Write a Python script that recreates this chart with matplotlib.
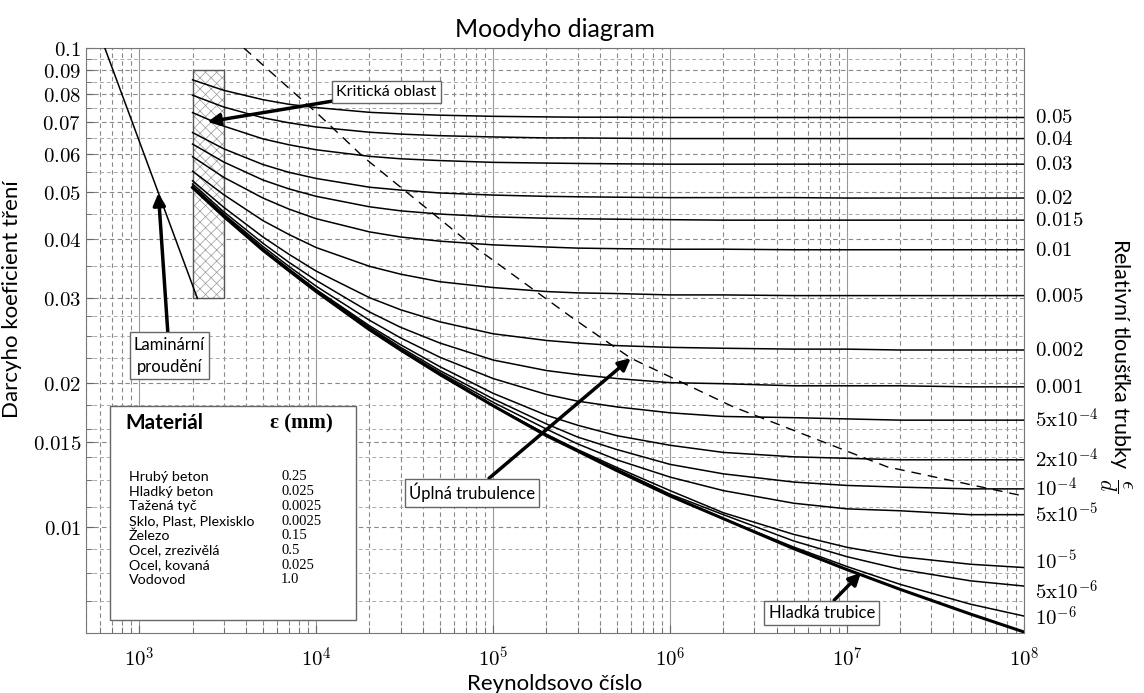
import numpy as np
import matplotlib
matplotlib.use("Agg")
import matplotlib.pyplot as plt
from matplotlib.patches import Rectangle
from matplotlib.ticker import FixedLocator, NullFormatter, FuncFormatter, LogLocator
import matplotlib.transforms as mtrans

plt.rcParams['mathtext.fontset'] = 'cm'
plt.rcParams['font.family'] = ['Lato', 'DejaVu Sans']
plt.rcParams['hatch.linewidth'] = 0.5

re_pts = [2e3, 3e3, 5e3, 7e3, 1e4, 2e4, 3e4, 5e4, 1e5, 2e5, 3e5, 5e5, 1e6, 2e6, 5e6, 1e7, 2e7, 5e7, 1e8]

# friction factor per relative roughness
f_0_05 = [0.0858, 0.0816, 0.0780, 0.0763, 0.0751, 0.0734, 0.0729, 0.0724, 0.0720, 0.0718, 0.0717, 0.0717, 0.0716, 0.0716, 0.0716, 0.0716, 0.0716, 0.0716, 0.0716]
f_0_04 = [0.0797, 0.0753, 0.0715, 0.0698, 0.0684, 0.0667, 0.0661, 0.0656, 0.0652, 0.0649, 0.0649, 0.0648, 0.0647, 0.0647, 0.0647, 0.0647, 0.0647, 0.0647, 0.0647]
f_0_03 = [0.0733, 0.0687, 0.0646, 0.0628, 0.0613, 0.0594, 0.0587, 0.0582, 0.0577, 0.0575, 0.0574, 0.0573, 0.0572, 0.0572, 0.0572, 0.0572, 0.0572, 0.0572, 0.0572]
f_0_02 = [0.0666, 0.0616, 0.0571, 0.0550, 0.0534, 0.0512, 0.0505, 0.0498, 0.0493, 0.0490, 0.0489, 0.0488, 0.0487, 0.0487, 0.0487, 0.0486, 0.0486, 0.0486, 0.0486]
f_0_015 = [0.0630, 0.0578, 0.0530, 0.0508, 0.0490, 0.0466, 0.0457, 0.0450, 0.0444, 0.0441, 0.0440, 0.0439, 0.0438, 0.0437, 0.0437, 0.0437, 0.0437, 0.0437, 0.0437]
f_0_01 = [0.0593, 0.0537, 0.0486, 0.0461, 0.0440, 0.0413, 0.0403, 0.0395, 0.0388, 0.0384, 0.0382, 0.0381, 0.0380, 0.0380, 0.0379, 0.0379, 0.0379, 0.0379, 0.0379]
f_0_005 = [0.0553, 0.0494, 0.0436, 0.0408, 0.0383, 0.0350, 0.0337, 0.0325, 0.0316, 0.0310, 0.0308, 0.0307, 0.0305, 0.0305, 0.0304, 0.0304, 0.0304, 0.0304, 0.0304]
f_0_002 = [0.0528, 0.0465, 0.0403, 0.0371, 0.0342, 0.0301, 0.0284, 0.0268, 0.0253, 0.0245, 0.0242, 0.0239, 0.0237, 0.0236, 0.0235, 0.0235, 0.0234, 0.0234, 0.0234]
f_0_001 = [0.0520, 0.0455, 0.0391, 0.0357, 0.0327, 0.0281, 0.0261, 0.0242, 0.0223, 0.0212, 0.0208, 0.0204, 0.0200, 0.0199, 0.0197, 0.0197, 0.0197, 0.0196, 0.0196]
f_5e4 = [0.0515, 0.0450, 0.0385, 0.0350, 0.0318, 0.0270, 0.0248, 0.0226, 0.0204, 0.0189, 0.0183, 0.0178, 0.0173, 0.0170, 0.0169, 0.0168, 0.0167, 0.0167, 0.0167]
f_2e4 = [0.0513, 0.0447, 0.0381, 0.0346, 0.0313, 0.0263, 0.0240, 0.0216, 0.0190, 0.0171, 0.0163, 0.0155, 0.0148, 0.0143, 0.0140, 0.0139, 0.0138, 0.0138, 0.0138]
f_1e4 = [0.0512, 0.0446, 0.0380, 0.0344, 0.0312, 0.0261, 0.0237, 0.0212, 0.0185, 0.0164, 0.0154, 0.0145, 0.0135, 0.0129, 0.0124, 0.0122, 0.0121, 0.0120, 0.0120]
f_5e5 = [0.0511, 0.0446, 0.0379, 0.0343, 0.0311, 0.0259, 0.0235, 0.0210, 0.0182, 0.0160, 0.0149, 0.0138, 0.0127, 0.0119, 0.0112, 0.0109, 0.0108, 0.0106, 0.0106]
f_1e5 = [0.0511, 0.0445, 0.0379, 0.0343, 0.0310, 0.0258, 0.0234, 0.0208, 0.0179, 0.0156, 0.0145, 0.0133, 0.0119, 0.0107, 0.00964, 0.00906, 0.00866, 0.00835, 0.00822]
f_5e6 = [0.0511, 0.0445, 0.0379, 0.0343, 0.0310, 0.0258, 0.0234, 0.0208, 0.0179, 0.0156, 0.0144, 0.0132, 0.0117, 0.0106, 0.00934, 0.00866, 0.00815, 0.00771, 0.00752]
f_1e6 = [0.0511, 0.0445, 0.0378, 0.0343, 0.0310, 0.0258, 0.0234, 0.0208, 0.0179, 0.0155, 0.0144, 0.0131, 0.0116, 0.0104, 0.00907, 0.00826, 0.00758, 0.00689, 0.00651]
f_smooth = [0.0511, 0.0445, 0.0378, 0.0343, 0.0310, 0.0258, 0.0234, 0.0208, 0.0179, 0.0155, 0.0144, 0.0131, 0.0116, 0.0104, 0.00900, 0.00814, 0.00740, 0.00657, 0.00603]

rough_curves = [f_0_05, f_0_04, f_0_03, f_0_02, f_0_015, f_0_01, f_0_005, f_0_002, f_0_001,
                f_5e4, f_2e4, f_1e4, f_5e5, f_1e5, f_5e6, f_1e6]
rough_labels = ['0.05', '0.04', '0.03', '0.02', '0.015', '0.01', '0.005', '0.002', '0.001',
                r'5\mathrm{x}10^{-4}', r'2\mathrm{x}10^{-4}', r'10^{-4}', r'5\mathrm{x}10^{-5}',
                r'10^{-5}', r'5\mathrm{x}10^{-6}', r'10^{-6}']
# small vertical nudges (points) so the crowded labels do not touch
label_nudge = [0, 0, 0, 0, 0, 0, 0, 0, 0, 0, 0, 0, 0, 4, -4, -1]

# laminar line and border of full turbulence
re_lam = [620, 2130]
f_lam = [0.103, 0.030]
re_turb = [3900, 1.04e4, 1.85e4, 7.3e4, 2.81e5, 6.0e5, 2.28e6, 1.69e7, 9.9e7]
f_turb = [0.100, 0.0724, 0.0592, 0.0392, 0.0273, 0.0225, 0.0178, 0.01334, 0.0116]

# material table
materials = ['Hrubý beton', 'Hladký beton', 'Tažená tyč', 'Sklo, Plast, Plexisklo',
             'Železo', 'Ocel, zrezivělá', 'Ocel, kovaná', 'Vodovod']
eps_mm = ['0.25', '0.025', '0.0025', '0.0025', '0.15', '0.5', '0.025', '1.0']

y_ticks = [0.1, 0.09, 0.08, 0.07, 0.06, 0.05, 0.04, 0.03, 0.02, 0.015, 0.01]
y_minor = [0.095, 0.085, 0.075, 0.065, 0.055, 0.045, 0.035, 0.0275, 0.025, 0.0225,
           0.018, 0.016, 0.014, 0.0125, 0.011, 0.009, 0.008, 0.007]

fig = plt.figure(figsize=(11.44, 6.93), dpi=100)
ax = fig.add_axes([0.0752, 0.0866, 0.8198, 0.8441])
ax.set_xscale('log')
ax.set_yscale('log')
ax.set_xlim(500, 1e8)
ax.set_ylim(0.006, 0.1)

ax.xaxis.set_major_locator(LogLocator(base=10, numticks=12))
ax.xaxis.set_minor_locator(LogLocator(base=10, subs=np.arange(2, 10), numticks=12))
ax.xaxis.set_major_formatter(FuncFormatter(lambda v, p: r'$10^{%d}$' % round(np.log10(v))))
ax.xaxis.set_minor_formatter(NullFormatter())
ax.yaxis.set_major_locator(FixedLocator(y_ticks))
ax.yaxis.set_major_formatter(FuncFormatter(lambda v, p: r'$%g$' % v))
ax.yaxis.set_minor_locator(FixedLocator(y_minor))
ax.yaxis.set_minor_formatter(NullFormatter())

ax.grid(which='major', axis='x', color='#999999', lw=0.8, ls='-')
ax.grid(which='minor', axis='x', color='#888888', lw=0.8, ls=(0, (4, 3)))
ax.grid(which='major', axis='y', color='#888888', lw=0.8, ls=(0, (4, 3)))
ax.grid(which='minor', axis='y', color='#aaaaaa', lw=0.7, ls=(0, (4, 3)))
ax.tick_params(which='both', direction='in', color='#666666', labelsize=15)
ax.tick_params(which='major', length=6)
ax.tick_params(which='minor', length=4)
ax.tick_params(axis='x', pad=10)
for s in ax.spines.values():
    s.set_color('#777777')

# critical zone
ax.add_patch(Rectangle((2000, 0.03), 1000, 0.06, facecolor='white', edgecolor='#999999',
                       hatch='xxx', lw=0, zorder=2))
ax.add_patch(Rectangle((2000, 0.03), 1000, 0.06, facecolor='none', edgecolor='#555555',
                       lw=1.0, zorder=3))

for f in rough_curves:
    ax.plot(re_pts, f, color='black', lw=1.1, zorder=4)
ax.plot(re_pts, f_smooth, color='black', lw=2.2, zorder=4)
ax.plot(re_lam, f_lam, color='black', lw=1.1, zorder=4)
ax.plot(re_turb, f_turb, color='black', lw=1.0, ls=(0, (7, 5)), zorder=4)

tr = mtrans.blended_transform_factory(ax.transAxes, ax.transData)
for f, lab, dy in zip(rough_curves, rough_labels, label_nudge):
    t = tr + mtrans.ScaledTranslation(0, dy / 72, fig.dpi_scale_trans)
    ax.text(1.012, f[-1], '$' + lab + '$', transform=t, ha='left', va='center',
            fontsize=15, clip_on=False)

box = dict(boxstyle='square,pad=0.25', fc='white', ec='#666666', lw=1)
arr = dict(arrowstyle='-|>', lw=2.5, color='black', mutation_scale=18, shrinkA=0, shrinkB=0)
ax.annotate('Kritická oblast', xy=(2430, 0.0701), xytext=(2.5e4, 0.0809), ha='center',
            va='center', fontsize=11.5, bbox=box, arrowprops=arr, zorder=6)
ax.annotate('Laminární\nproudění', xy=(1282, 0.0498), xytext=(1480, 0.02275), ha='center',
            va='center', fontsize=12, bbox=box, arrowprops=arr, zorder=6, linespacing=1.5)
ax.annotate('Úplná trubulence', xy=(6.0e5, 0.0225), xytext=(7.6e4, 0.01178), ha='center',
            va='center', fontsize=12, bbox=box, arrowprops=arr, zorder=6)
ax.annotate('Hladká trubice', xy=(1.2e7, 0.00802), xytext=(7.21e6, 0.00661), ha='center',
            va='center', fontsize=12, bbox=box, arrowprops=arr, zorder=6)

# material table box
ax.add_patch(Rectangle((0.0256, 0.0222), 0.2624, 0.366, transform=ax.transAxes,
                       facecolor='white', edgecolor='#666666', lw=1, zorder=7))
ax.text(0.0416, 0.359, 'Materiál', transform=ax.transAxes, fontsize=15, fontweight='bold',
        va='center', zorder=8)
ax.text(0.196, 0.359, 'ε (mm)', transform=ax.transAxes, fontsize=15, fontweight='bold',
        family='Liberation Serif', va='center', zorder=8)
for i, (m, e) in enumerate(zip(materials, eps_mm)):
    yy = 0.2667 - i * 0.0251
    ax.text(0.0458, yy, m, transform=ax.transAxes, fontsize=10.3, va='center', zorder=8)
    ax.text(0.208, yy, e, transform=ax.transAxes, fontsize=10.5, family='Liberation Serif',
            va='center', zorder=8)

ax.set_title('Moodyho diagram', fontsize=18, pad=8)
ax.set_xlabel('Reynoldsovo číslo', fontsize=16, labelpad=2)
ax.set_ylabel('Darcyho koeficient tření', fontsize=16)
ax.yaxis.set_label_coords(-0.068, 0.57)
ax.text(1.098, 0.458, r'Relativní tloušťka trubky  $\dfrac{\epsilon}{d}$', transform=ax.transAxes,
        rotation=270, ha='center', va='center', fontsize=15.5)

fig.savefig('out.png', dpi=100)
